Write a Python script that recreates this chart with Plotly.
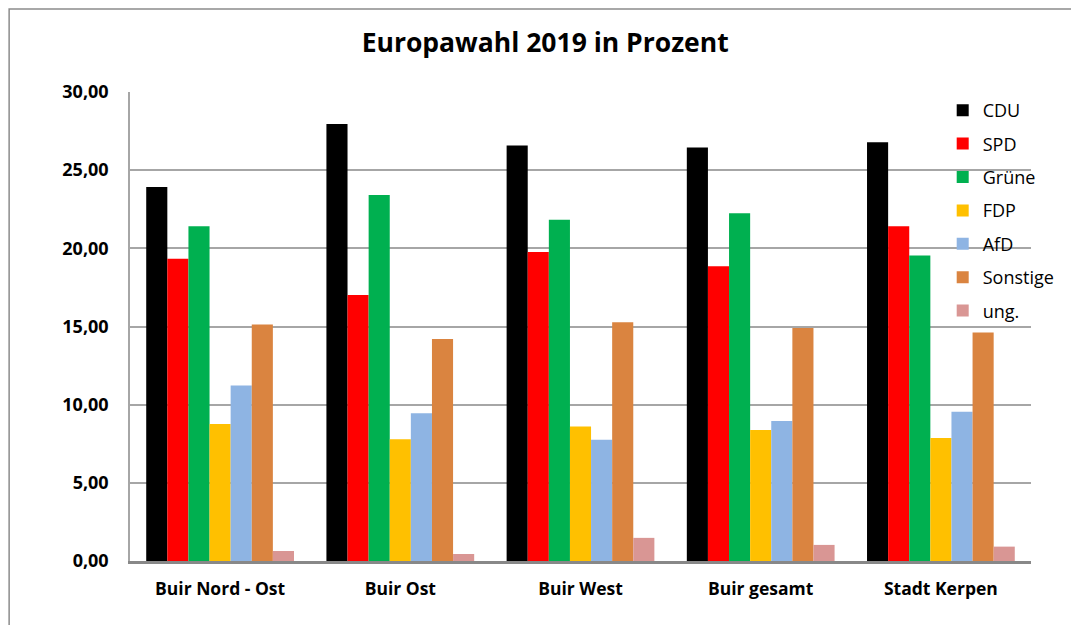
import plotly.graph_objects as go

categories = ["Buir Nord - Ost", "Buir Ost", "Buir West", "Buir gesamt", "Stadt Kerpen"]
parties = ["CDU", "SPD", "Grüne", "FDP", "AfD", "Sonstige", "ung."]
cdu = [23.92, 27.95, 26.58, 26.45, 26.79]
spd = [19.33, 17.02, 19.76, 18.86, 21.42]
gruene = [21.42, 23.41, 21.83, 22.24, 19.54]
fdp = [8.77, 7.78, 8.60, 8.38, 7.87]
afd = [11.22, 9.45, 7.76, 8.96, 9.54]
sonstige = [15.12, 14.20, 15.27, 14.90, 14.62]
ung = [0.64, 0.45, 1.48, 1.03, 0.92]
series = [cdu, spd, gruene, fdp, afd, sonstige, ung]
colors = ["#000000", "#FF0000", "#00B050", "#FFC000", "#8EB4E3", "#DA8440", "#D99694"]
y_ticks = [0, 5, 10, 15, 20, 25, 30]

FONT = "'Open Sans', Lato, sans-serif"

fig = go.Figure()
for name, vals, col in zip(parties, series, colors):
    fig.add_trace(go.Bar(
        x=categories, y=vals, name=name, legendgroup=name,
        marker=dict(color=col, line=dict(width=0)),
    ))

fig.update_layout(
    width=1071, height=625,
    paper_bgcolor="white", plot_bgcolor="white",
    margin=dict(l=130, r=39, t=92, b=64),
    barmode="group", bargap=0.18, bargroupgap=0,
    separators=",.",
    title=dict(text="<b>Europawahl 2019 in Prozent</b>", x=0.509, xanchor="center",
               y=0.931, yanchor="middle",
               font=dict(family=FONT, size=26.5, color="black")),
    legend=dict(x=0.901, xanchor="left", y=1.0, yanchor="top",
                bgcolor="rgba(0,0,0,0)", font=dict(family=FONT, size=18, color="black"),
                tracegroupgap=7, itemwidth=30),
    font=dict(family=FONT, color="black"),
    showlegend=True,
)
fig.update_yaxes(
    range=[0, 30], tickvals=y_ticks, tickformat=".2f",
    showgrid=True, gridcolor="#A6A6A6", gridwidth=1.5,
    showline=True, linecolor="#A6A6A6", linewidth=1.5,
    zeroline=False,
    tickfont=dict(family=FONT, size=18, color="black", weight="bold"),
    ticklabelstandoff=16,
)
fig.update_xaxes(
    showline=True, linecolor="#888888", linewidth=2.5,
    tickfont=dict(family=FONT, size=17.5, color="black", weight="bold"),
    ticks="", ticklabelstandoff=10,
)
fig.add_shape(type="rect", xref="paper", yref="paper",
              x0=(9 - 130) / 902, x1=(1090 - 130) / 902,
              y0=(561 - 640) / 469, y1=(561 - 9) / 469,
              line=dict(color="#8C8C8C", width=1.5), fillcolor="rgba(0,0,0,0)", layer="below")

fig.write_html("out.html", config={"displayModeBar": False},
               post_script="document.body.style.margin='0';")
